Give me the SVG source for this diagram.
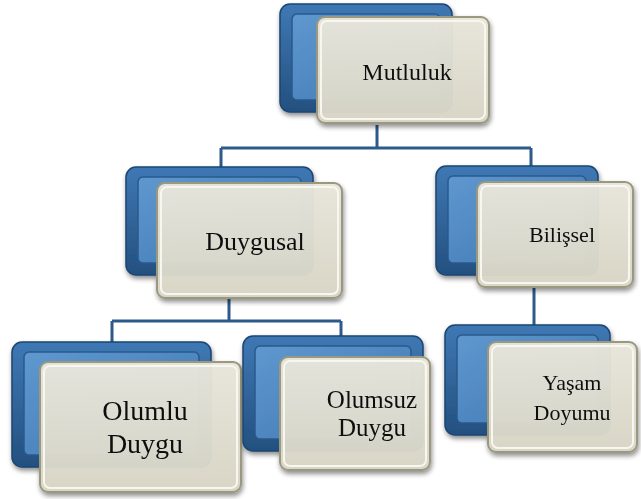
<svg xmlns="http://www.w3.org/2000/svg" width="641" height="499" viewBox="0 0 641 499">
<defs>
<linearGradient id="blueOuter" x1="0" y1="0" x2="0" y2="1">
<stop offset="0" stop-color="#3f78b4"/><stop offset="1" stop-color="#23507f"/>
</linearGradient>
<linearGradient id="blueInner" x1="0" y1="0" x2="1" y2="1">
<stop offset="0" stop-color="#5f97cf"/><stop offset="1" stop-color="#3f77b1"/>
</linearGradient>
<linearGradient id="cream" x1="0" y1="0" x2="0" y2="1">
<stop offset="0" stop-color="#e9e7dc"/><stop offset="1" stop-color="#d9d6c6"/>
</linearGradient>
<filter id="sh" x="-10%" y="-10%" width="130%" height="130%">
<feGaussianBlur in="SourceAlpha" stdDeviation="2.5"/>
<feOffset dx="1" dy="3"/>
<feComponentTransfer><feFuncA type="linear" slope="0.45"/></feComponentTransfer>
<feMerge><feMergeNode/><feMergeNode in="SourceGraphic"/></feMerge>
</filter>
</defs>
<style>
.bo{fill:url(#blueOuter);stroke:#1d4570;stroke-width:1.5}
.bi{fill:url(#blueInner);stroke:#2a5a8c;stroke-width:1.5}
.cr{fill:url(#cream);fill-opacity:0.96;stroke:#9a987f;stroke-width:2}
.ci{fill:none;stroke:#f7f6ef;stroke-width:2}
text{font-family:'Liberation Serif','Times New Roman',serif;fill:#111;text-anchor:middle}
.ln{fill:none;stroke:#2c5a8a;stroke-width:3}
</style>
<g id="connectors">
<path class="ln" d="M377 125 V148 M221 148 H531 M221 148 V170 M531 148 V170"/>
<path class="ln" d="M229 299 V321 M112 321 H341 M112 321 V344 M341 321 V338"/>
<path class="ln" d="M534 287 V326"/>
</g>
<g id="mutluluk" filter="url(#sh)">
<rect class="bo" x="280" y="4" width="172" height="108" rx="10"/>
<rect class="bi" x="292" y="14" width="148" height="86" rx="5"/>
<rect class="cr" x="317" y="17" width="172" height="106" rx="8"/>
<rect class="ci" x="321" y="21" width="164" height="98" rx="6"/>
<text font-family="Liberation Serif, serif" x="407" y="80" font-size="24">Mutluluk</text>
</g>
<g id="duygusal" filter="url(#sh)">
<rect class="bo" x="126" y="167" width="187" height="108" rx="10"/>
<rect class="bi" x="138" y="177" width="163" height="86" rx="5"/>
<rect class="cr" x="157" y="183" width="185" height="115" rx="8"/>
<rect class="ci" x="161" y="187" width="177" height="107" rx="6"/>
<text font-family="Liberation Serif, serif" x="255" y="250" font-size="26">Duygusal</text>
</g>
<g id="bilissel" filter="url(#sh)">
<rect class="bo" x="436" y="166" width="162" height="109" rx="10"/>
<rect class="bi" x="448" y="176" width="138" height="87" rx="5"/>
<rect class="cr" x="477" y="182" width="156" height="105" rx="8"/>
<rect class="ci" x="481" y="186" width="148" height="97" rx="6"/>
<text font-family="Liberation Serif, serif" x="562" y="242" font-size="22">Bilişsel</text>
</g>
<g id="olumlu" filter="url(#sh)">
<rect class="bo" x="12" y="342" width="199" height="125" rx="10"/>
<rect class="bi" x="24" y="352" width="175" height="103" rx="5"/>
<rect class="cr" x="40" y="362" width="201" height="130" rx="8"/>
<rect class="ci" x="44" y="366" width="193" height="122" rx="6"/>
<text font-family="Liberation Serif, serif" x="145" y="420" font-size="28">Olumlu</text>
<text font-family="Liberation Serif, serif" x="145" y="453" font-size="28">Duygu</text>
</g>
<g id="olumsuz" filter="url(#sh)">
<rect class="bo" x="243" y="336" width="180" height="115" rx="10"/>
<rect class="bi" x="255" y="346" width="156" height="93" rx="5"/>
<rect class="cr" x="280" y="357" width="150" height="113" rx="8"/>
<rect class="ci" x="284" y="361" width="142" height="105" rx="6"/>
<text font-family="Liberation Serif, serif" x="372" y="408" font-size="25">Olumsuz</text>
<text font-family="Liberation Serif, serif" x="372" y="436" font-size="25">Duygu</text>
</g>
<g id="yasam" filter="url(#sh)">
<rect class="bo" x="445" y="325" width="165" height="110" rx="10"/>
<rect class="bi" x="457" y="335" width="141" height="88" rx="5"/>
<rect class="cr" x="488" y="342" width="149" height="110" rx="8"/>
<rect class="ci" x="492" y="346" width="141" height="102" rx="6"/>
<text font-family="Liberation Serif, serif" x="572" y="390" font-size="22">Yaşam</text>
<text font-family="Liberation Serif, serif" x="572" y="420" font-size="22">Doyumu</text>
</g>
</svg>
